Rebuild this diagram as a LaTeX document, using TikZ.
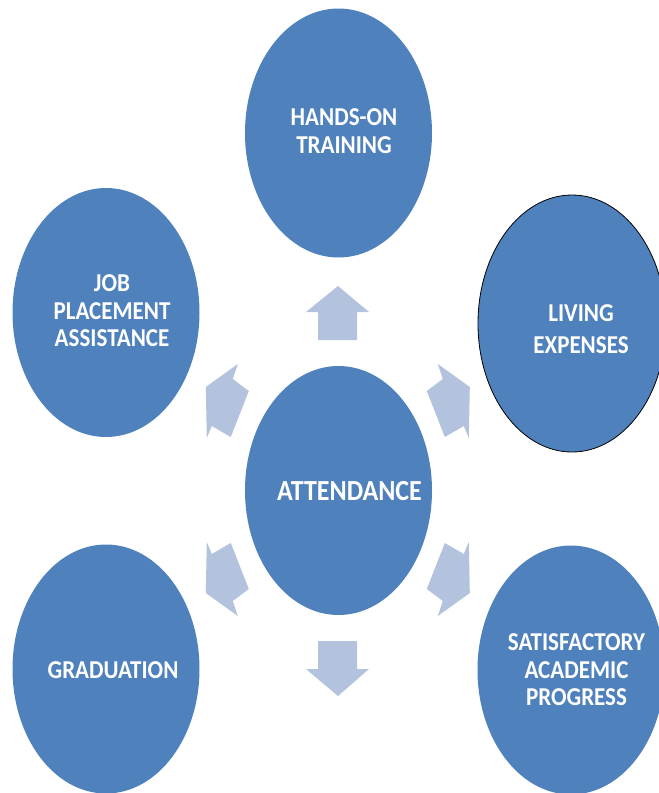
\documentclass[tikz,border=0pt]{standalone}
\usepackage{fontspec}
\usepackage{graphicx}
\setmainfont{Carlito}
\usetikzlibrary{shapes.geometric}
\definecolor{ellblue}{HTML}{4F81BD}
\definecolor{arrblue}{HTML}{B3C2DD}
\newcommand{\vs}[1]{\scalebox{1}[1.12]{#1}}
\tikzset{
  bub/.style={ellipse, fill=ellblue, minimum width=187pt, minimum height=249pt, inner sep=0pt},
  lbl/.style={text=white, font=\fontsize{23}{27.5}\selectfont\bfseries, align=center, inner sep=0pt},
  arr/.style={fill=arrblue, draw=none}
}
\begin{document}
\begin{tikzpicture}[x=1pt,y=-1pt]
\useasboundingbox (0,0) rectangle (659,793);
\clip (0,0) rectangle (659,793);
% ellipses
\node[bub] (hands) at (338.5,133) {};
\node[bub] (job) at (106,312.5) {};
\node[bub, draw=black, line width=0.8pt, minimum width=188pt, minimum height=257pt] (living) at (572,323.5) {};
\node[bub] (att) at (338.5,490.5) {};
\node[bub] (grad) at (106,669) {};
\node[bub] (sap) at (571,670) {};
% labels
\node[lbl] (handsL) at (344,131) {\vs{HANDS-ON}\\\vs{TRAINING}};
\node[lbl] (jobL) at (112,311) {\vs{JOB}\\\vs{PLACEMENT}\\\vs{ASSISTANCE}};
\node[lbl, font=\fontsize{23}{32}\selectfont\bfseries] (livingL) at (581,329) {\vs{LIVING}\\ \vs{EXPENSES}};
\node[lbl, font=\fontsize{26}{28}\selectfont\bfseries] (attL) at (349.5,491) {\vs{ATTENDANCE}};
\node[lbl] (gradL) at (113,670) {\vs{GRADUATION}};
\node[lbl] (sapL) at (576.5,670) {\vs{SATISFACTORY}\\\vs{ACADEMIC}\\\vs{PROGRESS}};
% arrows
\fill[arr] (338,286) -- (369,312) -- (357,312) -- (357,340) -- (318,340) -- (318,312) -- (306,312) -- cycle;
\fill[arr] (338,696) -- (369,669) -- (357,669) -- (357,641) -- (318,641) -- (318,669) -- (306,669) -- cycle;
\foreach \sx/\sy in {1/1,-1/1,1/-1,-1/-1}{
  \fill[arr, shift={(337.8,490)}, xscale=\sx, yscale=\sy]
    (-132,-103) -- (-100,-126) -- (-105,-111) -- (-89,-99) -- (-107,-53) -- (-126,-64) -- (-131,-52) -- cycle;
}
\end{tikzpicture}
\end{document}
